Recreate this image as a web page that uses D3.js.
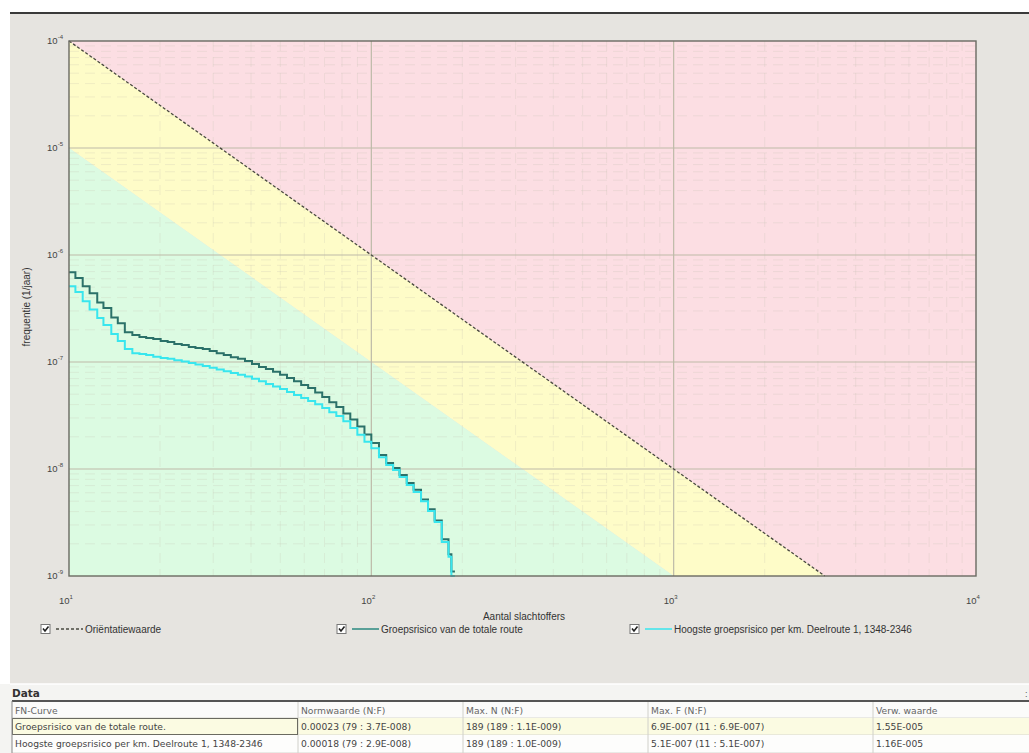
<!DOCTYPE html>
<html>
<head>
<meta charset="utf-8">
<script src="https://cdn.jsdelivr.net/npm/d3@7"></script>
<style>
  body { margin: 0; background: #fff; }
  svg { display: block; font-family: "Liberation Sans", Arial, sans-serif; }
</style>
</head>
<body>
<div id="chart"></div>
<script>
// ---- data ----
const xTicks = [10, 100, 1000, 10000];
const xTickExp = ["1", "2", "3", "4"];
const yTicks = [1e-4, 1e-5, 1e-6, 1e-7, 1e-8, 1e-9];
const yTickExp = ["-4", "-5", "-6", "-7", "-8", "-9"];

// orientation value line and the lower band edge (two end points each)
const orientN = [10, 3162];
const orientF = [1e-4, 1e-9];
const bandN = [10, 1000];
const bandF = [1e-5, 1e-9];

// step points of the FN curves (N = aantal slachtoffers, F = frequentie)
const stepN = [10, 10.5, 11.1, 11.7, 12.4, 13.0, 13.8, 14.5, 15.3, 16.2, 17.1, 18.0, 19.0,
  20.1, 21.2, 22.3, 23.6, 24.9, 26.2, 27.7, 29.2, 30.8, 32.5, 34.3, 36.2, 38.2, 40.3, 42.5,
  44.8, 47.3, 49.9, 52.6, 55.5, 58.6, 61.8, 65.2, 68.8, 72.6, 76.6, 80.8, 85.2, 89.9, 94.9,
  100, 106, 112, 118, 124, 131, 138, 146, 154, 162, 171, 180, 184, 189];

const groepF = [6.9e-7, 6.1e-7, 5.1e-7, 4.4e-7, 3.6e-7, 3.2e-7, 2.6e-7, 2.3e-7, 1.9e-7, 1.79e-7,
  1.71e-7, 1.68e-7, 1.64e-7, 1.57e-7, 1.54e-7, 1.47e-7, 1.44e-7, 1.38e-7, 1.35e-7, 1.32e-7,
  1.27e-7, 1.21e-7, 1.16e-7, 1.11e-7, 1.07e-7, 1.02e-7, 9.6e-8, 9.0e-8, 8.6e-8, 8.1e-8, 7.6e-8,
  7.1e-8, 6.6e-8, 6.1e-8, 5.7e-8, 5.2e-8, 4.7e-8, 4.2e-8, 3.8e-8, 3.3e-8, 2.9e-8, 2.5e-8,
  2.1e-8, 1.75e-8, 1.35e-8, 1.14e-8, 1.02e-8, 8.8e-9, 7.4e-9, 6.4e-9, 5.2e-9, 4.2e-9, 3.3e-9,
  2.2e-9, 1.6e-9, 1.1e-9, 1.1e-9];

const hoogsteF = [5.1e-7, 4.5e-7, 3.7e-7, 3.1e-7, 2.58e-7, 2.22e-7, 1.83e-7, 1.57e-7, 1.32e-7,
  1.21e-7, 1.19e-7, 1.16e-7, 1.12e-7, 1.09e-7, 1.07e-7, 1.04e-7, 1.01e-7, 9.8e-8, 9.5e-8,
  9.2e-8, 8.85e-8, 8.5e-8, 8.2e-8, 7.9e-8, 7.6e-8, 7.3e-8, 6.97e-8, 6.6e-8, 6.24e-8, 5.9e-8,
  5.6e-8, 5.25e-8, 4.92e-8, 4.61e-8, 4.33e-8, 4.03e-8, 3.71e-8, 3.4e-8, 3.13e-8, 2.8e-8,
  2.42e-8, 2.09e-8, 1.8e-8, 1.56e-8, 1.29e-8, 1.09e-8, 9.8e-9, 8.4e-9, 7.1e-9, 6.1e-9, 5.0e-9,
  4.05e-9, 3.2e-9, 2.08e-9, 1.51e-9, 1.0e-9, 1.0e-9];

const legendLabels = ["Oriëntatiewaarde", "Groepsrisico van de totale route",
  "Hoogste groepsrisico per km. Deelroute 1, 1348-2346"];

const tableHeader = ["FN-Curve", "Normwaarde (N:F)", "Max. N  (N:F)", "Max. F  (N:F)", "Verw. waarde"];
const tableRows = [
  ["Groepsrisico van de totale route.", "0.00023 (79 : 3.7E-008)", "189 (189 : 1.1E-009)",
   "6.9E-007 (11 : 6.9E-007)", "1.55E-005"],
  ["Hoogste groepsrisico per km. Deelroute 1, 1348-2346", "0.00018 (79 : 2.9E-008)",
   "189 (189 : 1.0E-009)", "5.1E-007 (11 : 5.1E-007)", "1.16E-005"]
];

// ---- layout ----
const W = 1029, H = 753;
const plot = {left: 69, top: 41, right: 976, bottom: 576};

const svg = d3.select("#chart").append("svg")
  .attr("width", W).attr("height", H);

// window panel
svg.append("rect").attr("x", 10).attr("y", 13).attr("width", W - 10).attr("height", 671)
  .attr("fill", "#e6e4e0");
svg.append("line").attr("x1", 10).attr("x2", W).attr("y1", 13).attr("y2", 13)
  .attr("stroke", "#3a3a3a").attr("stroke-width", 2);

const x = d3.scaleLog().domain([10, 10000]).range([plot.left, plot.right]);
const y = d3.scaleLog().domain([1e-9, 1e-4]).range([plot.bottom, plot.top]);

const g = svg.append("g");

// risk zones
const zoneLine = d3.line().x(d => x(d[0])).y(d => y(d[1]));
const [xMin, xMax] = x.domain(), [yMin, yMax] = y.domain();

g.append("path")
  .attr("d", zoneLine([[orientN[0], orientF[0]], [xMax, yMax], [xMax, yMin], [orientN[1], orientF[1]]]) + "Z")
  .attr("fill", "#fcdee3");
g.append("path")
  .attr("d", zoneLine([[orientN[0], orientF[0]], [orientN[1], orientF[1]], [bandN[1], bandF[1]], [bandN[0], bandF[0]]]) + "Z")
  .attr("fill", "#fefcc8");
g.append("path")
  .attr("d", zoneLine([[bandN[0], bandF[0]], [bandN[1], bandF[1]], [xMin, yMin]]) + "Z")
  .attr("fill", "#dcfbe2");

// minor grid
const minorX = [], minorY = [];
xTicks.slice(0, -1).forEach(t => d3.range(2, 10).forEach(k => minorX.push(t * k)));
yTicks.slice(1).forEach(t => d3.range(2, 10).forEach(k => minorY.push(t * k)));

g.selectAll(".minor-x").data(minorX).join("line")
  .attr("x1", d => x(d)).attr("x2", d => x(d))
  .attr("y1", plot.top).attr("y2", plot.bottom)
  .attr("stroke", "#c9c3b4").attr("stroke-opacity", 0.25)
  .attr("stroke-dasharray", "10,6");
g.selectAll(".minor-y").data(minorY).join("line")
  .attr("x1", plot.left).attr("x2", plot.right)
  .attr("y1", d => y(d)).attr("y2", d => y(d))
  .attr("stroke", "#c9c3b4").attr("stroke-opacity", 0.25)
  .attr("stroke-dasharray", "10,6");

// major grid
g.selectAll(".major-x").data(xTicks.slice(1, -1)).join("line")
  .attr("x1", d => x(d)).attr("x2", d => x(d))
  .attr("y1", plot.top).attr("y2", plot.bottom)
  .attr("stroke", "#bdbaa8").attr("stroke-width", 1.2);
g.selectAll(".major-y").data(yTicks.slice(1, -1)).join("line")
  .attr("x1", plot.left).attr("x2", plot.right)
  .attr("y1", d => y(d)).attr("y2", d => y(d))
  .attr("stroke", "#bdbaa8").attr("stroke-width", 1.2);

// orientation line
g.append("line")
  .attr("x1", x(orientN[0])).attr("y1", y(orientF[0]))
  .attr("x2", x(orientN[1])).attr("y2", y(orientF[1]))
  .attr("stroke", "#4a4a40").attr("stroke-width", 1.3)
  .attr("stroke-dasharray", "3,2");

// FN curves
const step = d3.line().curve(d3.curveStepAfter)
  .x(d => x(d[0])).y(d => y(d[1]));

g.append("path")
  .attr("d", step(stepN.map((n, i) => [n, groepF[i]])))
  .attr("fill", "none").attr("stroke", "#2b7169").attr("stroke-width", 2);
g.append("path")
  .attr("d", step(stepN.map((n, i) => [n, hoogsteF[i]])))
  .attr("fill", "none").attr("stroke", "#38e6ee").attr("stroke-width", 2);

// frame
g.append("rect")
  .attr("x", plot.left).attr("y", plot.top)
  .attr("width", plot.right - plot.left).attr("height", plot.bottom - plot.top)
  .attr("fill", "none").attr("stroke", "#6a6a62").attr("stroke-width", 1.4);

// y tick labels
const yl = svg.selectAll(".ylab").data(yTicks).join("text")
  .attr("x", plot.left - 6).attr("y", d => y(d) + 3)
  .attr("text-anchor", "end").attr("font-size", 9.5).attr("fill", "#444");
yl.append("tspan").text("10");
yl.append("tspan").attr("dy", -5).attr("font-size", 6).text((d, i) => yTickExp[i]);

// x tick labels
const xl = svg.selectAll(".xlab").data(xTicks).join("text")
  .attr("x", d => x(d) - 10).attr("y", 604)
  .attr("font-size", 9.5).attr("fill", "#444");
xl.append("tspan").text("10");
xl.append("tspan").attr("dy", -5).attr("font-size", 6).text((d, i) => xTickExp[i]);

// axis titles
svg.append("text").attr("x", 524).attr("y", 620).attr("text-anchor", "middle")
  .attr("font-size", 10).attr("fill", "#333").text("Aantal slachtoffers");
svg.append("text").attr("transform", "translate(30,307) rotate(-90)")
  .attr("text-anchor", "middle").attr("font-size", 10).attr("fill", "#333")
  .text("frequentie (1/jaar)");

// legend
const legendX = [41, 337, 630];
const legendStyle = [
  {stroke: "#4a4a40", dash: "3,2"},
  {stroke: "#2b8a80", dash: null},
  {stroke: "#38e6ee", dash: null}
];
const leg = svg.selectAll(".leg").data(legendLabels).join("g")
  .attr("transform", (d, i) => `translate(${legendX[i]},629)`);
leg.append("rect").attr("x", 0).attr("y", -4.5).attr("width", 9).attr("height", 9)
  .attr("fill", "#fff").attr("stroke", "#777");
leg.append("path").attr("d", "M2,-0.5 L4,2 L7.5,-2.5")
  .attr("fill", "none").attr("stroke", "#222").attr("stroke-width", 1.6);
leg.append("line").attr("x1", 15).attr("x2", 42).attr("y1", 0).attr("y2", 0)
  .attr("stroke", (d, i) => legendStyle[i].stroke).attr("stroke-width", 1.5)
  .attr("stroke-dasharray", (d, i) => legendStyle[i].dash);
leg.append("text").attr("x", 44).attr("y", 3.5).attr("font-size", 10).attr("fill", "#333")
  .text(d => d);

// data panel
svg.append("rect").attr("x", 0).attr("y", 684).attr("width", W).attr("height", H - 684)
  .attr("fill", "#f4f4f2");
svg.append("line").attr("x1", 10).attr("x2", W).attr("y1", 684).attr("y2", 684)
  .attr("stroke", "#fff").attr("stroke-width", 1.5);
svg.append("text").attr("x", 12).attr("y", 697).attr("font-size", 10.5)
  .attr("font-family", "DejaVu Sans").attr("font-weight", "bold")
  .attr("fill", "#333").text("Data");
svg.append("text").attr("x", 1025).attr("y", 697).attr("font-size", 9)
  .attr("fill", "#555").text(":");

const colX = [12, 298, 463, 648, 873, W];
const rowY = [702, 718, 735, 753];
const rowFill = ["#fbfbfa", "#fbfbe2", "#fdfdfc"];

const rows = [tableHeader, ...tableRows];
rows.forEach((r, ri) => {
  svg.append("rect").attr("x", colX[0]).attr("y", rowY[ri])
    .attr("width", W - colX[0]).attr("height", rowY[ri + 1] - rowY[ri])
    .attr("fill", rowFill[ri]);
  svg.append("line").attr("x1", colX[0]).attr("x2", W)
    .attr("y1", rowY[ri + 1]).attr("y2", rowY[ri + 1])
    .attr("stroke", "#d6d6d0");
  r.forEach((cell, ci) => {
    svg.append("text").attr("x", colX[ci] + 3).attr("y", rowY[ri] + 11.5)
      .attr("font-family", "DejaVu Sans").attr("font-size", 9.2)
      .attr("fill", ri === 0 ? "#666" : "#444")
      .text(cell);
  });
});
svg.selectAll(".colsep").data(colX.slice(1, -1)).join("line")
  .attr("x1", d => d).attr("x2", d => d).attr("y1", rowY[0]).attr("y2", H)
  .attr("stroke", "#d0d0ca");
// selected cell
svg.append("rect").attr("x", colX[0] + 0.5).attr("y", rowY[1] + 0.5)
  .attr("width", colX[1] - colX[0] - 1).attr("height", rowY[2] - rowY[1] - 1)
  .attr("fill", "none").attr("stroke", "#6a6a60");
svg.append("line").attr("x1", colX[0]).attr("x2", W).attr("y1", 701).attr("y2", 701)
  .attr("stroke", "#555").attr("stroke-width", 2);
svg.append("line").attr("x1", colX[0]).attr("x2", colX[0]).attr("y1", 701).attr("y2", H)
  .attr("stroke", "#888");
</script>
</body>
</html>
